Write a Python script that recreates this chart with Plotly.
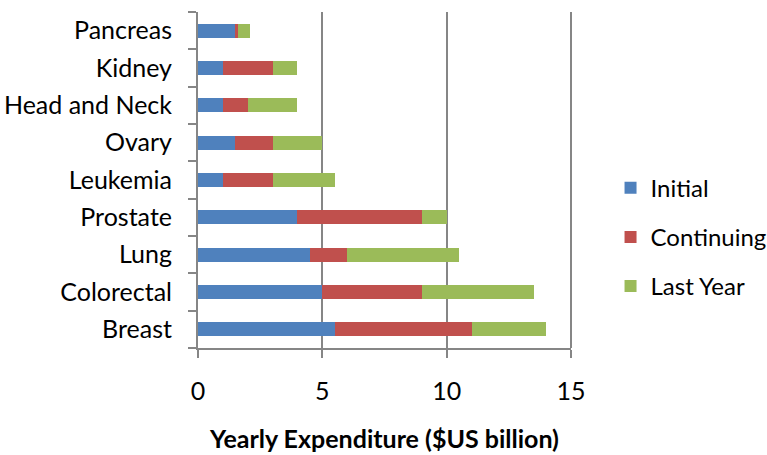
import plotly.graph_objects as go

# Cancer types, listed bottom to top
categories = ["Breast", "Colorectal", "Lung", "Prostate", "Leukemia",
              "Ovary", "Head and Neck", "Kidney", "Pancreas"]

# Yearly expenditure by phase of care ($US billion)
initial = [5.5, 5.0, 4.5, 4.0, 1.0, 1.5, 1.0, 1.0, 1.5]
continuing = [5.5, 4.0, 1.5, 5.0, 2.0, 1.5, 1.0, 2.0, 0.1]
last_year = [3.0, 4.5, 4.5, 1.0, 2.5, 2.0, 2.0, 1.0, 0.5]

series = [
    ("Initial", initial, "#4F81BD"),
    ("Continuing", continuing, "#C0504D"),
    ("Last Year", last_year, "#9BBB59"),
]

FONT = "Lato"
AXIS_GREY = "#868686"

fig = go.Figure()
for name, values, color in series:
    fig.add_trace(go.Bar(
        y=categories, x=values, name=name, orientation="h",
        legendgroup=name,
        marker=dict(color=color, line=dict(width=0)),
    ))

fig.update_layout(
    width=767, height=455,
    margin=dict(l=198, r=196, t=12, b=107, autoexpand=False),
    barmode="stack", bargap=0.62,
    plot_bgcolor="white", paper_bgcolor="white",
    font=dict(family=FONT, size=25, color="#000000"),
    legend=dict(
        x=1.106, y=0.33, xanchor="left", yanchor="middle",
        traceorder="grouped", tracegroupgap=15,
        font=dict(family=FONT, size=24),
        itemwidth=30,
    ),
    xaxis=dict(
        range=[0, 15], dtick=5, tick0=0,
        showgrid=True, gridcolor=AXIS_GREY, gridwidth=2,
        showline=True, linecolor=AXIS_GREY, linewidth=2,
        ticks="outside", ticklen=8, tickwidth=2, tickcolor=AXIS_GREY,
        ticklabelstandoff=12,
        zeroline=False, mirror=False,
        title=dict(text="<b>Yearly Expenditure ($US billion)</b>",
                   font=dict(family=FONT, size=25), standoff=26),
    ),
    yaxis=dict(
        type="category", categoryorder="array", categoryarray=categories,
        showline=True, linecolor=AXIS_GREY, linewidth=2,
        ticks="outside", ticklen=8, tickwidth=2, tickcolor=AXIS_GREY,
        tickson="boundaries", ticklabelstandoff=19,
        showgrid=False, zeroline=False,
    ),
)

# Right border of the plotting area
fig.add_shape(type="line", xref="paper", yref="paper",
              x0=1, x1=1, y0=0, y1=1,
              line=dict(color=AXIS_GREY, width=2))

fig.write_html("out.html")
